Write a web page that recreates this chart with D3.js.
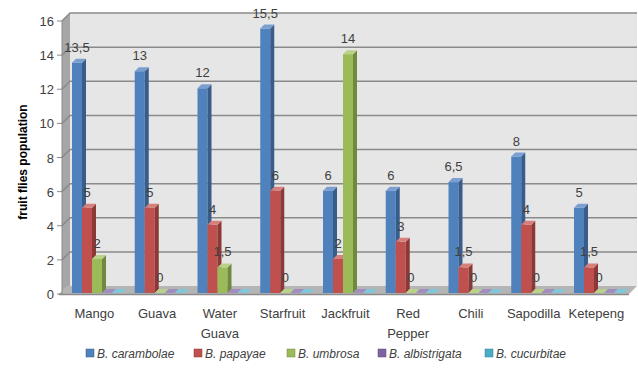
<!DOCTYPE html>
<html>
<head>
<meta charset="utf-8">
<script src="https://cdn.jsdelivr.net/npm/d3@7"></script>
<style>
  body { margin: 0; background: #fff; }
  svg text { font-family: 'Liberation Sans', Arial, sans-serif; fill: #404040; }
</style>
</head>
<body>
<svg id="chart" width="638" height="370"></svg>
<script>
// data
const fruits = [['Mango'], ['Guava'], ['Water', 'Guava'], ['Starfruit'], ['Jackfruit'],
  ['Red', 'Pepper'], ['Chili'], ['Sapodilla'], ['Ketepeng']];
const species = ['B. carambolae', 'B. papayae', 'B. umbrosa', 'B. albistrigata', 'B. cucurbitae'];
const carambolae = [13.5, 13, 12, 15.5, 6, 6, 6.5, 8, 5];
const papayae = [5, 5, 4, 6, 2, 3, 1.5, 4, 1.5];
const umbrosa = [2, 0, 1.5, 0, 14, 0, 0, 0, 0];
const albistrigata = [0, 0, 0, 0, 0, 0, 0, 0, 0];
const cucurbitae = [0, 0, 0, 0, 0, 0, 0, 0, 0];
const labelled = [true, true, true, false, false];
const yTicks = [0, 2, 4, 6, 8, 10, 12, 14, 16];

const seriesValues = [carambolae, papayae, umbrosa, albistrigata, cucurbitae];
const faces = [
  { front: '#4F81BD', side: '#385D8A', top: '#7B9FD0' },
  { front: '#C0504D', side: '#8C3836', top: '#D67F7C' },
  { front: '#9BBB59', side: '#71893F', top: '#B9D288' },
  { front: '#8064A2', side: '#5C4776', top: '#A38DC0' },
  { front: '#4BACC6', side: '#357D91', top: '#80C7DA' },
];

const svg = d3.select('#chart');
const left = 62, right = 629, depth = 8;
const y = d3.scaleLinear().domain([0, 16]).range([294, 21]);
const x0 = d3.scaleBand().domain(d3.range(fruits.length)).range([64, 628.75]);
const x1 = d3.scaleBand().domain(d3.range(species.length)).range([8, 58]);

// side wall
svg.append('path')
  .attr('d', `M${left},${y(16)} L${left + depth},${y(16) - depth} L${left + depth},${y(0) - depth} L${left},${y(0)} Z`)
  .attr('fill', '#a6a6a6');
// back wall
svg.append('rect')
  .attr('x', left + depth).attr('y', y(16) - depth)
  .attr('width', right + depth - left - depth).attr('height', y(0) - y(16))
  .attr('fill', '#e6e6e6');
// gridlines on back and side wall
yTicks.slice(1).forEach((t) => {
  svg.append('path')
    .attr('d', `M${left},${y(t)} L${left + depth},${y(t) - depth} L${right + depth},${y(t) - depth}`)
    .attr('fill', 'none')
    .attr('stroke', '#8a8a8a')
    .attr('stroke-width', 1.5);
});
// floor
svg.append('path')
  .attr('d', `M${left - 3},${y(0)} L${left + depth - 3},${y(0) - depth} L${right + depth},${y(0) - depth} L${right},${y(0)} Z`)
  .attr('fill', '#b5b5b5');
svg.append('line')
  .attr('x1', left - 3).attr('x2', right).attr('y1', y(0) + 0.5).attr('y2', y(0) + 0.5)
  .attr('stroke', '#8a8a8a').attr('stroke-width', 1.5);

// y axis
svg.append('line')
  .attr('x1', left).attr('x2', left).attr('y1', y(16)).attr('y2', y(0))
  .attr('stroke', '#8a8a8a').attr('stroke-width', 1);
yTicks.forEach((t) => {
  svg.append('line')
    .attr('x1', left - 5).attr('x2', left).attr('y1', y(t)).attr('y2', y(t))
    .attr('stroke', '#8a8a8a');
  svg.append('text')
    .attr('x', left - 8).attr('y', y(t) + 5)
    .attr('text-anchor', 'end')
    .attr('font-size', 13)
    .text(t);
});
svg.append('text')
  .attr('transform', `translate(27,162) rotate(-90)`)
  .attr('text-anchor', 'middle')
  .attr('font-size', 12)
  .attr('font-weight', 'bold')
  .style('fill', '#000')
  .text('fruit flies population');

// bars
const d = 4, lift = 1;
const bars = svg.append('g');
fruits.forEach((f, i) => {
  seriesValues.forEach((vals, s) => {
    const bx = x0(i) + x1(s);
    const w = x1.bandwidth();
    const yt = y(vals[i]) - lift;
    const yb = y(0) - lift;
    const c = faces[s];
    if (yb - yt > 0) {
      bars.append('rect')
        .attr('x', bx).attr('y', yt).attr('width', w).attr('height', yb - yt)
        .attr('fill', c.front);
    }
    bars.append('path')
      .attr('d', `M${bx + w},${yt} L${bx + w + d},${yt - d} L${bx + w + d},${yb - d} L${bx + w},${yb} Z`)
      .attr('fill', c.side);
    bars.append('path')
      .attr('d', `M${bx},${yt} L${bx + d},${yt - d} L${bx + w + d},${yt - d} L${bx + w},${yt} Z`)
      .attr('fill', c.top);
  });
});

// data labels
fruits.forEach((f, i) => {
  seriesValues.forEach((vals, s) => {
    if (!labelled[s]) return;
    svg.append('text')
      .attr('x', x0(i) + x1(s) + x1.bandwidth() / 2)
      .attr('y', y(vals[i]) - 12)
      .attr('text-anchor', 'middle')
      .attr('font-size', 13)
      .text(String(vals[i]).replace('.', ','));
  });
});

// category labels
fruits.forEach((f, i) => {
  const t = svg.append('text')
    .attr('x', x0(i) + x0.bandwidth() / 2 - 1)
    .attr('y', 318)
    .attr('text-anchor', 'middle')
    .attr('font-size', 13);
  f.forEach((line, k) => {
    t.append('tspan').attr('x', x0(i) + x0.bandwidth() / 2 - 1).attr('dy', k ? 20 : 0).text(line);
  });
});

// legend
const legendX = [86, 194, 287, 378, 485];
species.forEach((name, s) => {
  svg.append('rect')
    .attr('x', legendX[s]).attr('y', 349).attr('width', 8).attr('height', 8)
    .attr('fill', faces[s].front).attr('stroke', faces[s].side).attr('stroke-width', 0.5);
  svg.append('text')
    .attr('x', legendX[s] + 11).attr('y', 357.5)
    .attr('font-size', 12)
    .attr('font-style', 'italic')
    .text(name);
});
</script>
</body>
</html>
